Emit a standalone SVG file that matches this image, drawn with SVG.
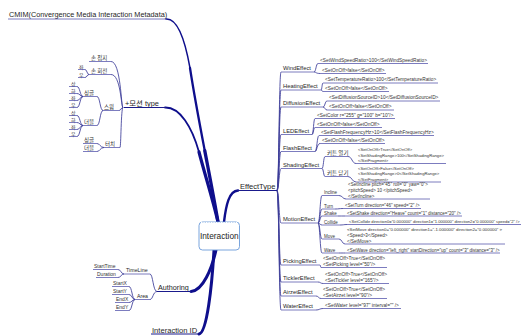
<svg xmlns="http://www.w3.org/2000/svg" width="527" height="336" viewBox="0 0 527 336">
<style>
.m{fill:none;stroke:#0e0e8c;stroke-linecap:round}
.c{fill:none;stroke:#3c3c98;stroke-width:0.85}
.u{fill:none;stroke:#5050aa;stroke-width:0.75}
.un{fill:none;stroke:#1a1a8c;stroke-width:1.1}
text{font-family:"Liberation Sans","Noto Sans CJK KR",sans-serif;fill:#1e1e1e}
.k{font-family:"Noto Sans CJK KR","Liberation Sans",sans-serif;font-size:5.5px;fill:#333}
.k5{font-family:"Noto Sans CJK KR","Liberation Sans",sans-serif;font-size:5px;fill:#333}
.e{font-size:5.8px}
.s{font-size:5px;fill:#333}
.v{font-size:4.8px;fill:#333}
.vm{font-size:4.5px;fill:#333}
.vs{font-size:4.2px;fill:#333}
.big{font-size:9px;fill:#333}
</style>
<rect width="527" height="336" fill="#fff"/>
<g id="connectors">
<path class="m" stroke-width="1.5" d="M166,19 C178,18 185,40 190,68"/>
<path class="m" stroke-width="2.3" d="M190,68 C194,94 199.5,123.25 204.75,150.6"/>
<path class="m" stroke-width="3.3" d="M204.75,150.6 C210,178 215,203.5 218,222"/>
<path class="m" stroke-width="1.8" d="M165,107.5 C180,107 192,127 199,152"/>
<path class="m" stroke-width="3.2" d="M199,152 C205,175 213,200 218,222"/>
<path class="m" stroke-width="2.4" d="M224,222 C226,205 229,191 238,190.5"/>
<path class="m" stroke-width="3" d="M216,250 C212,268 203,291 191,291.5"/>
<path class="m" stroke-width="3" d="M214,250 C212,285 207,333 199,334"/>
<path class="c" d="M123,107.5 C121,107.5 121,61.5 111,61.5"/>
<path class="c" d="M123,107.5 C121,107.5 121,74.5 111,74.5"/>
<path class="c" d="M123,107.5 C121,107.5 121,110.5 119,110.5"/>
<path class="c" d="M123,107.5 C121,107.5 121,147.5 120,147.5"/>
<path class="c" d="M89,74.5 C87,74.5 87,69.5 85,69.5"/>
<path class="c" d="M89,74.5 C87,74.5 87,77.5 85,77.5"/>
<path class="c" d="M103,110.5 C100,110.5 100,96.5 97,96.5"/>
<path class="c" d="M103,110.5 C100,110.5 100,125.5 97,125.5"/>
<path class="c" d="M83,96.5 C80,96.5 80,86.5 77,86.5"/>
<path class="c" d="M83,96.5 C80,96.5 80,93.5 77,93.5"/>
<path class="c" d="M83,96.5 C80,96.5 80,100.5 77,100.5"/>
<path class="c" d="M83,96.5 C80,96.5 80,107.5 77,107.5"/>
<path class="c" d="M83,125.5 C80,125.5 80,115.5 77,115.5"/>
<path class="c" d="M83,125.5 C80,125.5 80,122.5 77,122.5"/>
<path class="c" d="M83,125.5 C80,125.5 80,129.5 77,129.5"/>
<path class="c" d="M83,125.5 C80,125.5 80,136.5 77,136.5"/>
<path class="c" d="M104,147.5 C100,147.5 100,143.5 97,143.5"/>
<path class="c" d="M104,147.5 C100,147.5 100,151.5 97,151.5"/>
<path class="c" d="M157,291.5 C153,291.5 153,274 150,274"/>
<path class="c" d="M157,291.5 C153,291.5 153,299.5 150,299.5"/>
<path class="c" d="M124,274 C121,274 121,269.5 118,269.5"/>
<path class="c" d="M124,274 C121,274 121,277.5 118,277.5"/>
<path class="c" d="M135,299.5 C132,299.5 132,286.5 129,286.5"/>
<path class="c" d="M135,299.5 C132,299.5 132,294.5 129,294.5"/>
<path class="c" d="M135,299.5 C132,299.5 132,302.5 129,302.5"/>
<path class="c" d="M135,299.5 C132,299.5 132,310.5 129,310.5"/>
<path class="c" d="M277,190.5 C279,190.5 279,72 281,72"/>
<path class="c" d="M277,190.5 C279,190.5 279,90 281,90"/>
<path class="c" d="M277,190.5 C279,190.5 279,107 281,107"/>
<path class="c" d="M277,190.5 C279,190.5 279,134.5 281,134.5"/>
<path class="c" d="M277,190.5 C279,190.5 279,151.5 281,151.5"/>
<path class="c" d="M277,190.5 C279,190.5 279,168.5 281,168.5"/>
<path class="c" d="M277,190.5 C279,190.5 279,223 281,223"/>
<path class="c" d="M277,190.5 C279,190.5 279,265 281,265"/>
<path class="c" d="M277,190.5 C279,190.5 279,282 281,282"/>
<path class="c" d="M277,190.5 C279,190.5 279,296 281,296"/>
<path class="c" d="M277,190.5 C279,190.5 279,310 281,310"/>
<path class="c" d="M314,72 C316,72 316,63.5 318,63.5"/>
<path class="c" d="M314,72 C316,72 316,73.5 320,73.5"/>
<path class="c" d="M321,90 C322,90 322,83 323,83"/>
<path class="c" d="M321,90 C322,90 322,91.5 323,91.5"/>
<path class="c" d="M323,107 C325,107 325,101 327,101"/>
<path class="c" d="M323,107 C325,107 325,110 327,110"/>
<path class="c" d="M312,134.5 C313.5,134.5 313.5,118.5 315,118.5"/>
<path class="c" d="M312,134.5 C313.5,134.5 313.5,127.5 315,127.5"/>
<path class="c" d="M315,151.5 C317,151.5 317,135.5 319,135.5"/>
<path class="c" d="M315,151.5 C317,151.5 317,143.5 320,143.5"/>
<path class="c" d="M322,168.5 C323.5,168.5 323.5,156.5 325,156.5"/>
<path class="c" d="M322,168.5 C323.5,168.5 323.5,176.5 325,176.5"/>
<path class="c" d="M348,156.5 C352,156.5 352,163.5 356,163.5"/>
<path class="c" d="M348,176.5 C352,176.5 352,182 356,182"/>
<path class="c" d="M318,223 C320,223 320,195.5 322,195.5"/>
<path class="c" d="M318,223 C320,223 320,209 322,209"/>
<path class="c" d="M318,223 C320,223 320,216 322,216"/>
<path class="c" d="M318,223 C320,223 320,225 322,225"/>
<path class="c" d="M318,223 C320,223 320,239 322,239"/>
<path class="c" d="M318,223 C320,223 320,253 322,253"/>
<path class="c" d="M339,195.5 C342.5,195.5 342.5,199 346,199"/>
<path class="c" d="M335,209 C339,209 339,208.5 343,208.5"/>
<path class="c" d="M338,216 C341.5,216 341.5,216 345,216"/>
<path class="c" d="M340,225 C343.5,225 343.5,224.5 347,224.5"/>
<path class="c" d="M339,239 C342,239 342,244 345,244"/>
<path class="c" d="M339,253 C342,253 342,253 345,253"/>
<path class="c" d="M320,265 C320.5,265 320.5,267.5 321,267.5"/>
<path class="c" d="M318,282 C320.5,282 320.5,283.5 323,283.5"/>
<path class="c" d="M316,296 C318.5,296 318.5,298.5 321,298.5"/>
<path class="c" d="M316,310 C319.5,310 319.5,308.5 323,308.5"/>
</g>

<g id="n-cmim"><text x="9" y="16.5" font-size="7.3">CMIM(Convergence Media Interaction Metadata)</text><path class="u" stroke-width="1" d="M8,19 H166"/></g>
<g id="n-interaction"><rect x="199" y="222" width="40.5" height="28" rx="3.5" fill="#fff" stroke="#6b9bd9" stroke-width="0.9"/><path d="M201,222.6 H237.5" stroke="#fff" stroke-width="1.2" stroke-dasharray="1.2,1.3"/><text x="219.3" y="239" font-size="8.3" text-anchor="middle">Interaction</text></g>
<g id="n-motiontype"><text x="125" y="105.5" font-size="7.4">+모션 type</text><path class="un" d="M124,107.5 H166"/></g>
<g id="n-grip"><text class="k" x="91" y="60">손 접지</text><path class="u" d="M89,61.5 H111"/></g>
<g id="n-rotate"><text class="k" x="91" y="73">손 회전</text><path class="u" d="M89,74.5 H111"/></g>
<g id="n-rot-l"><text class="k5" x="79" y="68.5">좌</text><path class="u" d="M78,69.5 H85"/></g>
<g id="n-rot-r"><text class="k5" x="79" y="76.5">우</text><path class="u" d="M78,77.5 H85"/></g>
<g id="n-swim"><text class="k" x="104" y="109">스윔</text><path class="u" d="M103,110.5 H119"/></g>
<g id="n-swim-single"><text class="k" x="84" y="95">싱글</text><path class="u" d="M83,96.5 H97"/></g>
<g id="n-swim-double"><text class="k" x="84" y="124">더블</text><path class="u" d="M83,125.5 H97"/></g>
<g id="n-ss-1"><text class="k5" x="71" y="85.5">상</text><path class="u" d="M69,86.5 H77"/></g>
<g id="n-ss-2"><text class="k5" x="71" y="92.5">하</text><path class="u" d="M69,93.5 H77"/></g>
<g id="n-ss-3"><text class="k5" x="71" y="99.5">좌</text><path class="u" d="M69,100.5 H77"/></g>
<g id="n-ss-4"><text class="k5" x="71" y="106.5">우</text><path class="u" d="M69,107.5 H77"/></g>
<g id="n-sd-1"><text class="k5" x="71" y="114.5">상</text><path class="u" d="M69,115.5 H77"/></g>
<g id="n-sd-2"><text class="k5" x="71" y="121.5">하</text><path class="u" d="M69,122.5 H77"/></g>
<g id="n-sd-3"><text class="k5" x="71" y="128.5">좌</text><path class="u" d="M69,129.5 H77"/></g>
<g id="n-sd-4"><text class="k5" x="71" y="135.5">우</text><path class="u" d="M69,136.5 H77"/></g>
<g id="n-touch"><text class="k" x="105" y="146" font-size="6">터치</text><path class="u" d="M104,147.5 H120"/></g>
<g id="n-touch-single"><text class="k" x="84" y="142">싱글</text><path class="u" d="M83,143.5 H97"/></g>
<g id="n-touch-double"><text class="k" x="84" y="150">더블</text><path class="u" d="M83,151.5 H97"/></g>

<g id="n-authoring"><text x="158" y="290" font-size="7.2">Authoring</text><path class="un" d="M157,291.5 H191"/></g>
<g id="n-timeline"><text x="126" y="272.3" font-size="5.3">TimeLine</text><path class="u" d="M124,274 H150"/></g>
<g id="n-starttime"><text class="s" x="94" y="267.8">StartTime</text><path class="u" d="M93,269.5 H118"/></g>
<g id="n-duration"><text class="s" x="97" y="275.8">Duration</text><path class="u" d="M96,277.5 H118"/></g>
<g id="n-area"><text x="137" y="297.8" font-size="5.2">Area</text><path class="u" d="M135,299.5 H150"/></g>
<g id="n-startx"><text class="s" x="113" y="284.8">StartX</text><path class="u" d="M112,286.5 H129"/></g>
<g id="n-starty"><text class="s" x="113" y="292.8">StartY</text><path class="u" d="M112,294.5 H129"/></g>
<g id="n-endx"><text class="s" x="116" y="300.8">EndX</text><path class="u" d="M115,302.5 H129"/></g>
<g id="n-endy"><text class="s" x="116" y="308.8">EndY</text><path class="u" d="M115,310.5 H129"/></g>
<g id="n-interactionid"><text x="152" y="332.5" font-size="7.6">Interaction ID</text><path class="un" d="M151,334 H199"/></g>

<g id="n-effecttype"><text x="240" y="188.5" font-size="7.5">EffectType</text><path class="un" d="M237,190.5 H277"/></g>

<g id="n-wind"><text class="e" x="283" y="70">WindEffect</text><path class="u" d="M281,72 H314"/></g>
<g id="v-wind-1"><text class="v" x="320" y="62.2">&lt;SetWindSpeedRatio&gt;100&lt;/SetWindSpeedRatio&gt;</text><path class="u" d="M318,63.5 H428"/></g>
<g id="v-wind-2"><text class="v" x="322" y="72.2">&lt;SetOnOff&gt;false&lt;/SetOnOff&gt;</text><path class="u" d="M320,73.5 H386"/></g>

<g id="n-heating"><text class="e" x="283" y="88">HeatingEffect</text><path class="u" d="M281,90 H321"/></g>
<g id="v-heating-1"><text class="v" x="325" y="81.2">&lt;SetTemperatureRatio&gt;100&lt;/SetTemperatureRatio&gt;</text><path class="u" d="M323,83 H438"/></g>
<g id="v-heating-2"><text class="v" x="325" y="89.7">&lt;SetOnOff&gt;false&lt;/SetOnOff&gt;</text><path class="u" d="M323,91.5 H389"/></g>

<g id="n-diffusion"><text class="e" x="283" y="105">DiffusionEffect</text><path class="u" d="M281,107 H323"/></g>
<g id="v-diffusion-1"><text class="v" x="329" y="99.2">&lt;SetDiffusionSourceID&gt;10&lt;/SetDiffusionSourceID&gt;</text><path class="u" d="M327,101 H440"/></g>
<g id="v-diffusion-2"><text class="v" x="329" y="108.2">&lt;SetOnOff&gt;false&lt;/SetOnOff&gt;</text><path class="u" d="M327,110 H394"/></g>

<g id="n-led"><text class="e" x="283" y="132.5">LEDEffect</text><path class="u" d="M281,134.5 H312"/></g>
<g id="v-led-1"><text class="v" x="317" y="116.7">&lt;SetColor r="255" g="100" b="10"/&gt;</text><path class="u" d="M315,118.5 H395"/></g>
<g id="v-led-2"><text class="v" x="317" y="125.7">&lt;SetOnOff&gt;false&lt;/SetOnOff&gt;</text><path class="u" d="M315,127.5 H382"/></g>

<g id="n-flash"><text class="e" x="283" y="149.5">FlashEffect</text><path class="u" d="M281,151.5 H315"/></g>
<g id="v-flash-1"><text class="v" x="321" y="133.7">&lt;SetFlashFrequencyHz&gt;10&lt;/SetFlashFrequencyHz&gt;</text><path class="u" d="M319,135.5 H434"/></g>
<g id="v-flash-2"><text class="v" x="322" y="141.7">&lt;SetOnOff&gt;false&lt;/SetOnOff&gt;</text><path class="u" d="M320,143.5 H385"/></g>

<g id="n-shading"><text class="e" x="283" y="166.5">ShadingEffect</text><path class="u" d="M281,168.5 H322"/></g>
<g id="n-curtain-open"><text class="k" font-size="4.5" x="327" y="154.6">커튼 열기</text><path class="u" d="M325,156.5 H348"/></g>
<g id="v-curtain-open"><text class="vs" x="358" y="151">&lt;SetOnOff&gt;True&lt;/SetOnOff&gt;</text><text class="vs" x="358" y="156.5">&lt;SetShadingRange&gt;100&lt;/SetShadingRange&gt;</text><text class="vs" x="358" y="162">&lt;/SetFragment&gt;</text><path class="u" d="M356,163.5 H446"/></g>
<g id="n-curtain-close"><text class="k" font-size="4.5" x="327" y="174.6">커튼 닫기</text><path class="u" d="M325,176.5 H348"/></g>
<g id="v-curtain-close"><text class="vs" x="358" y="169.5">&lt;SetOnOff&gt;False&lt;/SetOnOff&gt;</text><text class="vs" x="358" y="175">&lt;SetShadingRange&gt;0&lt;/SetShadingRange&gt;</text><text class="vs" x="358" y="180.5">&lt;/SetFragment&gt;</text><path class="u" d="M356,182 H441"/></g>

<g id="n-motion"><text class="e" x="283" y="221">MotionEffect</text><path class="u" d="M281,223 H318"/></g>
<g id="n-incline"><text class="vm" font-size="4.6" x="324" y="193.6">Incline</text><path class="u" d="M322,195.5 H339"/></g>
<g id="v-incline"><text class="vm" x="348" y="185.6">&lt;SetIncline pitch="45" roll="0" yaw="0"&gt;</text><text class="vm" x="348" y="191.6">&lt;pitchSpeed&gt; 10 &lt;/pitchSpeed&gt;</text><text class="vm" x="348" y="197.6">&lt;/SetIncline&gt;</text><path class="u" d="M346,199 H430"/></g>
<g id="n-turn"><text class="vm" font-size="4.6" x="324" y="207.6">Turn</text><path class="u" d="M322,209 H335"/></g>
<g id="v-turn"><text class="vm" x="345" y="207.1">&lt;SetTurn direction="46" speed="2" /&gt;</text><path class="u" d="M343,208.5 H421"/></g>
<g id="n-shake"><text class="vm" font-size="4.6" x="324" y="214.6">Shake</text><path class="u" d="M322,216 H338"/></g>
<g id="v-shake"><text class="vm" x="347" y="214.6">&lt;SetShake direction="Heave" count="1" distance="20" /&gt;</text><path class="u" d="M345,216 H462"/></g>
<g id="n-collide"><text class="vm" font-size="4.6" x="324" y="223.6">Collide</text><path class="u" d="M322,225 H340"/></g>
<g id="v-collide"><text class="big" transform="translate(349,223.1) scale(0.46)">&lt;SetCollide direction0="0.000000" direction1="1.000000" direction2="0.000000" speed="2" /&gt;</text><path class="u" d="M347,224.5 H521"/></g>
<g id="n-move"><text class="vm" font-size="4.6" x="324" y="237.6">Move</text><path class="u" d="M322,239 H339"/></g>
<g id="v-move"><text class="big" transform="translate(347,230.6) scale(0.48)">&lt;SetMove direction0="0.000000" direction1="-1.000000" direction2="0.000000" &gt;</text><text class="vm" x="347" y="236.6">&lt;Speed&gt;3&lt;/Speed&gt;</text><text class="vm" x="347" y="242.6">&lt;/SetMove&gt;</text><path class="u" d="M345,244 H505"/></g>
<g id="n-wave"><text class="vm" font-size="4.6" x="324" y="251.6">Wave</text><path class="u" d="M322,253 H339"/></g>
<g id="v-wave"><text class="vm" x="347" y="251.6">&lt;SetWave direction="left_right" startDirection="up" count="3" distance="3" /&gt;</text><path class="u" d="M345,253 H500"/></g>

<g id="n-picking"><text class="e" x="283" y="263">PickingEffect</text><path class="u" d="M281,265 H320"/></g>
<g id="v-picking"><text class="v" x="323" y="259.7">&lt;SetOnOff&gt;True&lt;/SetOnOff&gt;</text><text class="v" x="323" y="266">&lt;SetPicking level="50"/&gt;</text><path class="u" d="M321,267.5 H387"/></g>
<g id="n-tickler"><text class="e" x="283" y="280">TicklerEffect</text><path class="u" d="M281,282 H318"/></g>
<g id="v-tickler"><text class="v" x="325" y="275.7">&lt;SetOnOff&gt;True&lt;/SetOnOff&gt;</text><text class="v" x="325" y="282">&lt;SetTickler level="165"/&gt;</text><path class="u" d="M323,283.5 H389"/></g>
<g id="n-airzet"><text class="e" x="283" y="294">AirzetEffect</text><path class="u" d="M281,296 H316"/></g>
<g id="v-airzet"><text class="v" x="323" y="290.7">&lt;SetOnOff&gt;True&lt;/SetOnOff&gt;</text><text class="v" x="323" y="297">&lt;SetAirzet level="90"/&gt;</text><path class="u" d="M321,298.5 H387"/></g>
<g id="n-water"><text class="e" x="283" y="308">WaterEffect</text><path class="u" d="M281,310 H316"/></g>
<g id="v-water"><text class="v" x="325" y="306.7">&lt;SetWater level="97" interval="" /&gt;</text><path class="u" d="M323,308.5 H401"/></g>
</svg>
